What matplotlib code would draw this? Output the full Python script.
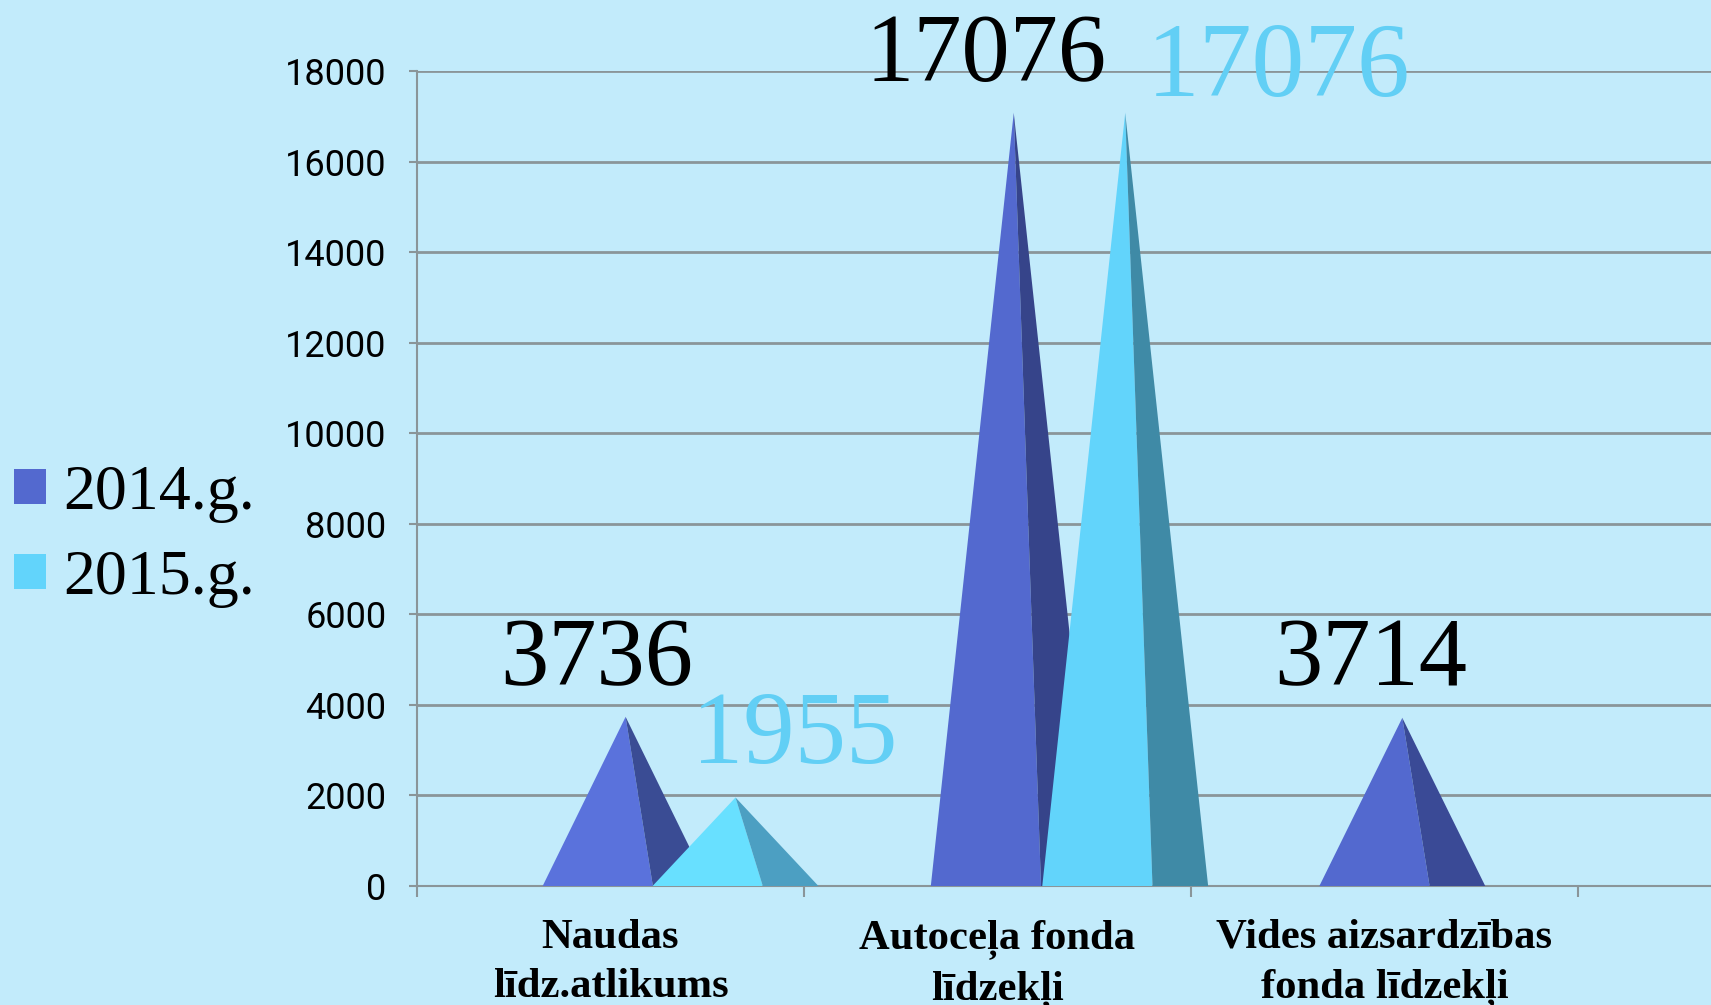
import matplotlib
matplotlib.use("Agg")
import matplotlib.pyplot as plt
from matplotlib.patches import Polygon, Patch

categories = ["Naudas\nlīdz.atlikums", "Autoceļa fonda\nlīdzekļi", "Vides aizsardzības\nfonda līdzekļi"]
values_2014 = [3736, 17076, 3714]
values_2015 = [1955, 17076, None]
yticks = list(range(0, 18001, 2000))
series_names = ["2014.g.", "2015.g."]

BG = "#C2EBFB"
LABEL15 = "#62CFF5"
GRID = "#8A9599"
W, H = 1711, 1005
PX = 72 / 100  # points per pixel

# (apex position in category units, face colours, label offset px, label size)
style_14 = [
    (0.539, ("#5A72DC", "#3A4C94"), (-29, 32), 69.5),
    (1.542, ("#5369CF", "#36448A"), (-28, 32), 69.5),
    (2.546, ("#5369CF", "#3A4A96"), (-32, 33), 69.5),
]
style_15 = [
    (0.823, ("#68E0FF", "#4C9FC2"), (59, 34), 74),
    (1.830, ("#62D4FB", "#3F8AA6"), (153, 17), 76),
    None,
]

fig = plt.figure(figsize=(W/100, H/100), dpi=100, facecolor=BG)
left, right, top, bottom = 417, 1711, 71, 886
ax = fig.add_axes([left/W, 1-bottom/H, (right-left)/W, (bottom-top)/H], facecolor=BG)
ax.set_ylim(0, 18000)
unit = 387.0
ax.set_xlim(0, (right-left)/unit)
ax.set_yticks(yticks)
ax.set_xticks([0, 1, 2, 3])
ax.set_xticklabels([])
ax.tick_params(axis='y', labelsize=26, length=6, width=1.5, color=GRID, labelcolor="black", pad=16)
ax.tick_params(axis='x', length=8, width=1.5, color=GRID)
for l in ax.get_yticklabels():
    l.set_family(["Roboto", "DejaVu Sans"])
ax.grid(axis='y', color=GRID, lw=2)
ax.set_axisbelow(True)
for s in ["top", "right"]:
    ax.spines[s].set_visible(False)
for s in ["left", "bottom"]:
    ax.spines[s].set_color(GRID)
    ax.spines[s].set_linewidth(1.5)

HW, DIV = 0.2143, 0.0705

def pyramid(apex, v, cols, z):
    ax.add_patch(Polygon([(apex-HW, 0), (apex, v), (apex+DIV, 0)], closed=True, fc=cols[0], ec="none", zorder=z))
    ax.add_patch(Polygon([(apex+DIV, 0), (apex, v), (apex+HW, 0)], closed=True, fc=cols[1], ec="none", zorder=z))

def label(apex, v, off, size, color):
    ax.annotate(str(v), xy=(apex, v), xytext=(off[0]*PX, off[1]*PX), textcoords="offset points",
                ha="center", va="baseline", family="Liberation Serif", fontsize=size,
                color=color, zorder=6, annotation_clip=False)

for i in range(3):
    apex, cols, off, size = style_14[i]
    pyramid(apex, values_2014[i], cols, 3)
    label(apex, values_2014[i], off, size, "black")
    if values_2015[i] is not None:
        apex, cols, off, size = style_15[i]
        pyramid(apex, values_2015[i], cols, 4)
        label(apex, values_2015[i], off, size, LABEL15)
    ax.annotate(categories[i], xy=(i+0.5, 0), xycoords=ax.get_xaxis_transform(),
                xytext=(0, -33*PX), textcoords="offset points",
                ha='center', va='top', family="Liberation Serif", weight='bold', fontsize=30.7,
                linespacing=1.38, annotation_clip=False)

handles = [Patch(fc="#5369CF", ec="none"), Patch(fc="#62D4FB", ec="none")]
fig.legend(handles, series_names, loc="upper left", bbox_to_anchor=(14/W, 1-465/H),
           bbox_transform=fig.transFigure, frameon=False,
           prop={"family": "Liberation Serif", "size": 46},
           handlelength=0.5, handleheight=0.47, handletextpad=0.27,
           labelspacing=0.42, borderpad=0, borderaxespad=0)
plt.savefig("out.png", dpi=100, facecolor=BG)
